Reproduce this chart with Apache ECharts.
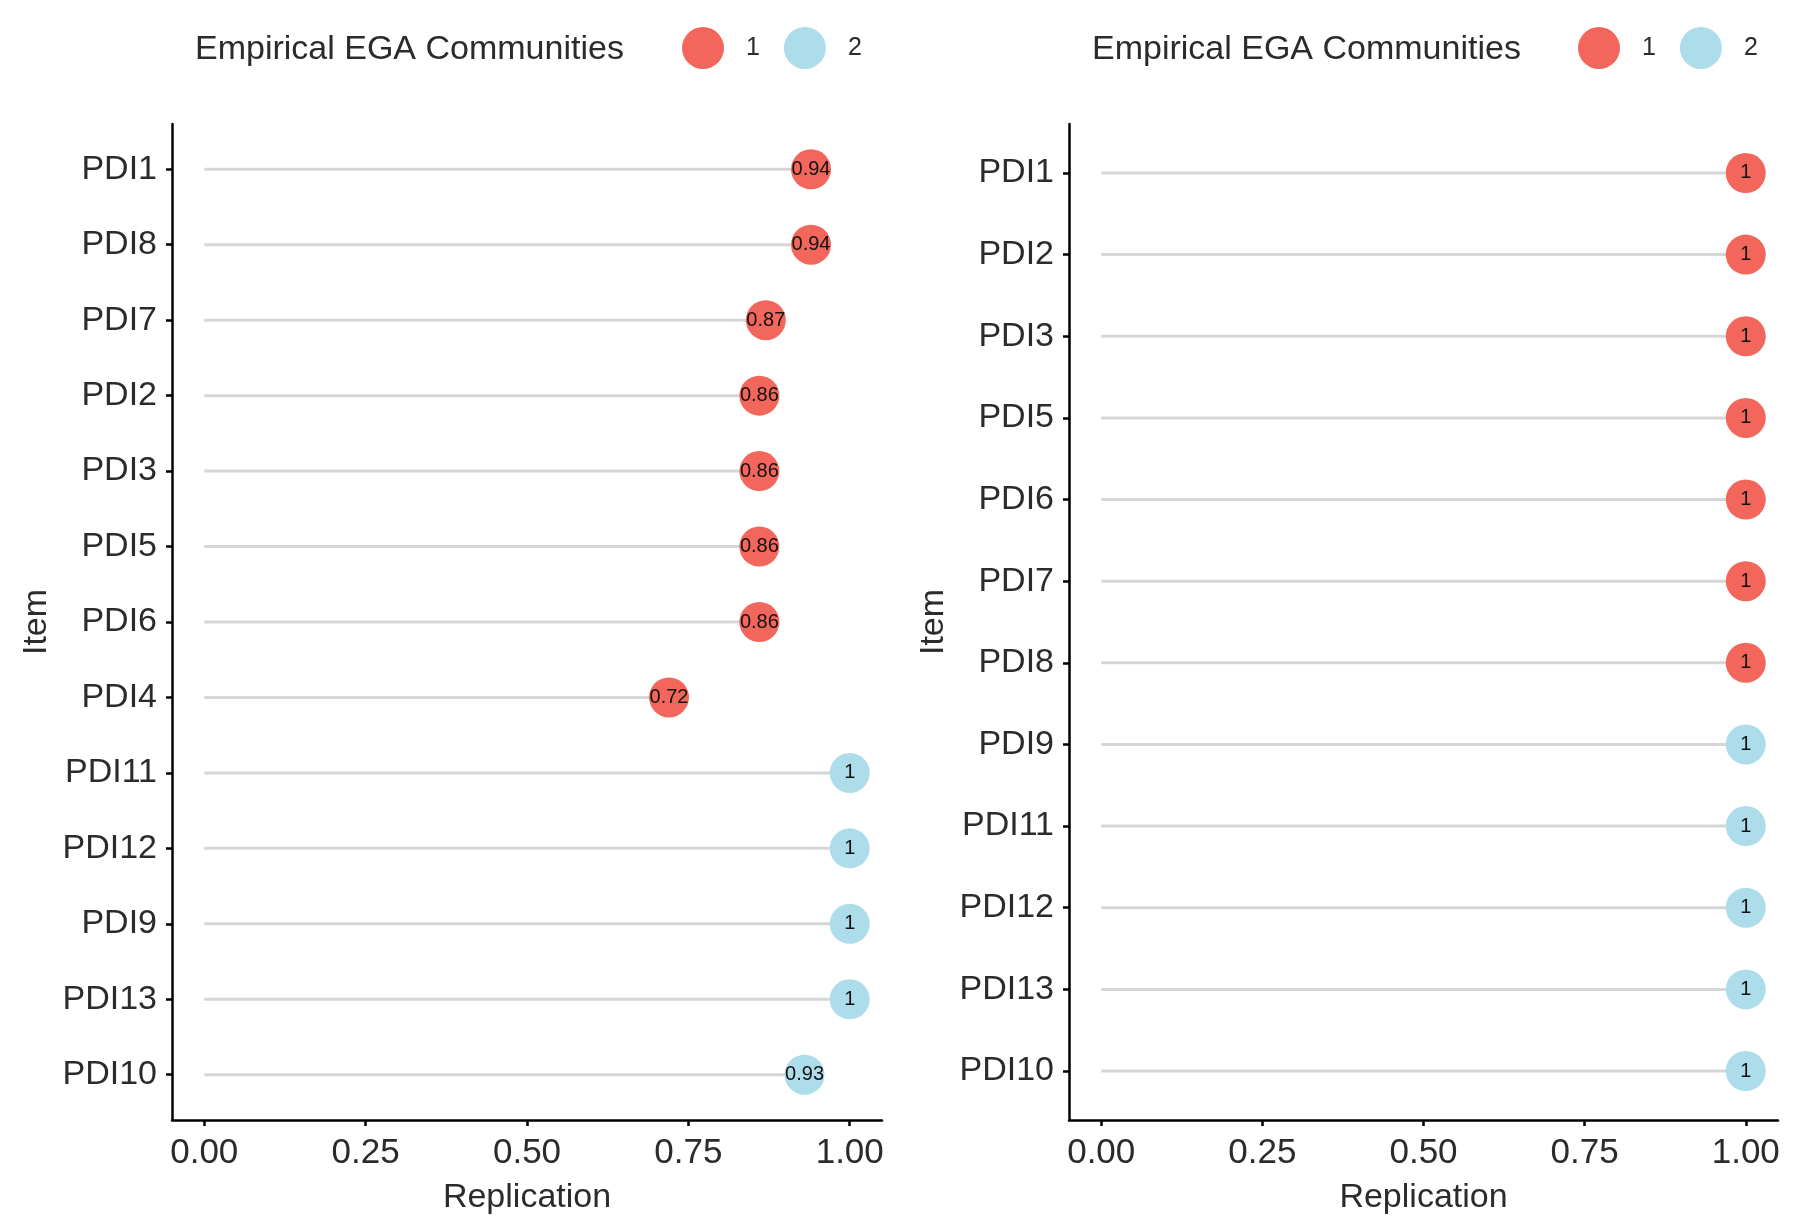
<!DOCTYPE html>
<html>
<head>
<meta charset="utf-8">
<script src="https://cdn.jsdelivr.net/npm/echarts@6/dist/echarts.min.js"></script>
<style>
html,body{margin:0;padding:0;background:#fff;}
#chart{width:1800px;height:1229px;}
</style>
</head>
<body>
<div id="chart"></div>
<script>
// ---- data ----
const itemsL = ['PDI1','PDI8','PDI7','PDI2','PDI3','PDI5','PDI6','PDI4','PDI11','PDI12','PDI9','PDI13','PDI10'];
const valuesL = [0.94,0.94,0.87,0.86,0.86,0.86,0.86,0.72,1,1,1,1,0.93];
const commL = [1,1,1,1,1,1,1,1,2,2,2,2,2];

const itemsR = ['PDI1','PDI2','PDI3','PDI5','PDI6','PDI7','PDI8','PDI9','PDI11','PDI12','PDI13','PDI10'];
const valuesR = [1,1,1,1,1,1,1,1,1,1,1,1];
const commR = [1,1,1,1,1,1,1,2,2,2,2,2];

const xTicks = [0, 0.25, 0.5, 0.75, 1];
const legendTitle = 'Empirical EGA Communities';
const communities = ['1','2'];

// ---- styles ----
const RED = '#F2665C';
const BLUE = '#ADDCEA';
const FONT = '"Liberation Sans", Arial, Helvetica, sans-serif';
const TXT = '#2b2b2b';

function idx(n){ return Array.from({length:n}, (_, i) => i); }

function makeAxes(gi, items){
  const n = items.length;
  const x = {
    type:'value', gridIndex:gi, min:-0.05, max:1.05,
    name:'Replication', nameLocation:'middle', nameGap:61,
    nameTextStyle:{fontSize:34, color:TXT, fontFamily:FONT},
    axisLine:{show:true, onZero:false, lineStyle:{color:'#000', width:2.5}},
    axisTick:{show:true, length:6, customValues:xTicks, lineStyle:{color:'#000', width:2.5}},
    axisLabel:{show:true, customValues:xTicks, margin:16, fontSize:35, color:TXT, fontFamily:FONT,
      formatter: v => Number(v).toFixed(2)},
    splitLine:{show:false}
  };
  const y = {
    type:'value', gridIndex:gi, inverse:true, min:-0.6, max:n - 1 + 0.6,
    name:'Item', nameLocation:'middle', nameGap:118,
    nameTextStyle:{fontSize:34, color:TXT, fontFamily:FONT},
    axisLine:{show:true, onZero:false, lineStyle:{color:'#000', width:2.5}},
    axisTick:{show:true, length:6, customValues:idx(n), lineStyle:{color:'#000', width:2.5}},
    axisLabel:{show:true, customValues:idx(n), margin:15, fontSize:34, color:TXT, fontFamily:FONT,
      formatter: v => items[Math.round(v)]},
    splitLine:{show:false}
  };
  return [x, y];
}

function segSeries(gi, values){
  return {
    type:'custom', xAxisIndex:gi, yAxisIndex:gi, silent:true, z:1,
    data: values.map((v, i) => [v, i]),
    renderItem: (params, api) => {
      const yv = api.value(1);
      const p0 = api.coord([0, yv]);
      const p1 = api.coord([api.value(0), yv]);
      return {type:'line', shape:{x1:p0[0], y1:p0[1], x2:p1[0], y2:p1[1]},
        style:{stroke:'#D6D6D6', lineWidth:3}};
    }
  };
}

function pointSeries(gi, values, comm, c, color){
  const data = [];
  values.forEach((v, i) => { if (comm[i] === c) data.push([v, i]); });
  return {
    type:'scatter', name:String(c), xAxisIndex:gi, yAxisIndex:gi, z:3,
    symbol:'circle', symbolSize:40,
    itemStyle:{color:color, opacity:1},
    label:{show:true, position:'inside', fontSize:20, color:'#111', fontFamily:FONT,
      formatter: p => String(p.value[0])},
    emphasis:{disabled:true},
    data: data
  };
}

const [xL, yL] = makeAxes(0, itemsL);
const [xR, yR] = makeAxes(1, itemsR);

const option = {
  backgroundColor:'#fff',
  animation:false,
  title:[
    {text:legendTitle, left:190, top:28, textStyle:{fontSize:34, fontWeight:'normal', color:TXT, fontFamily:FONT}},
    {text:legendTitle, left:1087, top:28, textStyle:{fontSize:34, fontWeight:'normal', color:TXT, fontFamily:FONT}}
  ],
  legend:[
    {data:communities, left:677, top:22, icon:'circle', itemWidth:42, itemHeight:42, itemGap:24,
      textStyle:{fontSize:25, color:TXT, fontFamily:FONT, padding:[0,0,0,17]}, selectedMode:false},
    {data:communities, left:1573, top:22, icon:'circle', itemWidth:42, itemHeight:42, itemGap:24,
      textStyle:{fontSize:25, color:TXT, fontFamily:FONT, padding:[0,0,0,17]}, selectedMode:false}
  ],
  grid:[
    {left:172, right:918, top:124, bottom:109, containLabel:false},
    {left:1069, right:22, top:124, bottom:109, containLabel:false}
  ],
  xAxis:[xL, xR],
  yAxis:[yL, yR],
  series:[
    segSeries(0, valuesL),
    pointSeries(0, valuesL, commL, 1, RED),
    pointSeries(0, valuesL, commL, 2, BLUE),
    segSeries(1, valuesR),
    pointSeries(1, valuesR, commR, 1, RED),
    pointSeries(1, valuesR, commR, 2, BLUE)
  ]
};

const chart = echarts.init(document.getElementById('chart'), null, {renderer:'canvas'});
chart.setOption(option);
</script>
</body>
</html>
